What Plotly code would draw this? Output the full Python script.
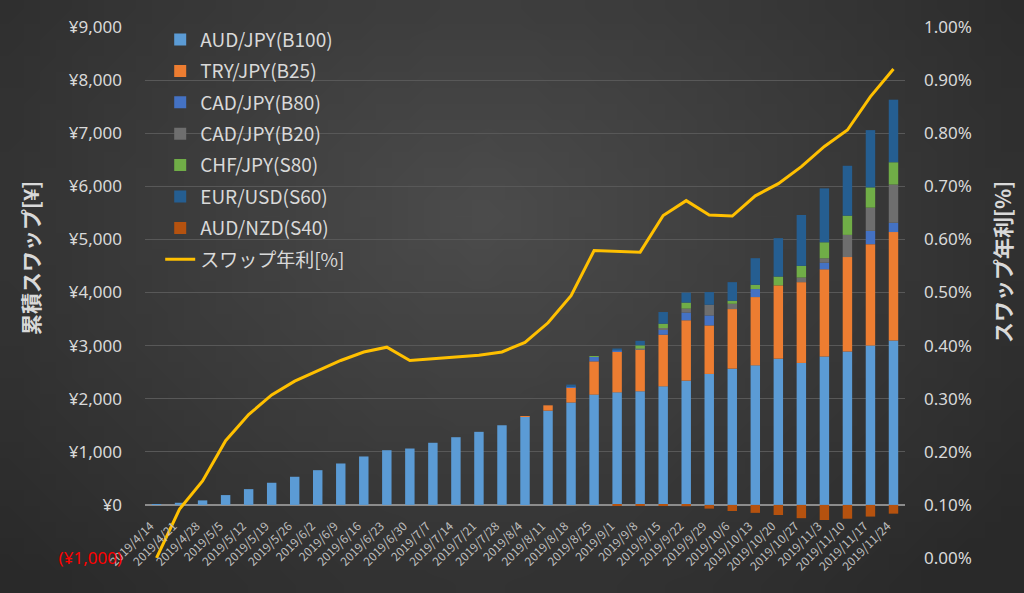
import base64
import struct
import zlib

import plotly.graph_objects as go

# ---------------- data ----------------
dates = ["2019/4/14", "2019/4/21", "2019/4/28", "2019/5/5", "2019/5/12", "2019/5/19",
         "2019/5/26", "2019/6/2", "2019/6/9", "2019/6/16", "2019/6/23", "2019/6/30",
         "2019/7/7", "2019/7/14", "2019/7/21", "2019/7/28", "2019/8/4", "2019/8/11",
         "2019/8/18", "2019/8/25", "2019/9/1", "2019/9/8", "2019/9/15", "2019/9/22",
         "2019/9/29", "2019/10/6", "2019/10/13", "2019/10/20", "2019/10/27", "2019/11/3",
         "2019/11/10", "2019/11/17", "2019/11/24"]

aud_jpy_b100 = [5, 40, 85, 185, 297, 417, 530, 654, 780, 912, 1030, 1062, 1170, 1275, 1376,
                1500, 1660, 1775, 1928, 2077, 2120, 2140, 2233, 2340, 2466, 2566, 2628, 2754,
                2673, 2797, 2891, 3004, 3098]
try_jpy_b25 = [0, 0, 0, 0, 0, 0, 0, 0, 0, 0, 0, 0, 0, 0, 0, 0,
               10, 100, 280, 626, 762, 785, 972, 1137, 914, 1122, 1286, 1380, 1522, 1639,
               1776, 1906, 2040]
cad_jpy_b80 = [0, 0, 0, 0, 0, 0, 0, 0, 0, 0, 0, 0, 0, 0, 0, 0, 0, 0,
               25, 85, 25, 10, 95, 145, 188, 0, 150, 0, 0, 125, 0, 250, 175]
cad_jpy_b20 = [0, 0, 0, 0, 0, 0, 0, 0, 0, 0, 0, 0, 0, 0, 0, 0, 0, 0, 0, 0, 0,
               10, 30, 75, 201, 100, 0, 0, 87, 83, 418, 438, 720]
chf_jpy_s80 = [0, 0, 0, 0, 0, 0, 0, 0, 0, 0, 0, 0, 0, 0, 0, 0, 0, 0, 0,
               15, 0, 60, 82, 113, 0, 56, 81, 166, 220, 302, 362, 382, 420]
eur_usd_s60 = [0, 0, 0, 0, 0, 0, 0, 0, 0, 0, 0, 0, 0, 0, 0, 0, 0, 0,
               33, 0, 38, 85, 220, 188, 239, 351, 501, 723, 958, 1015, 939, 1078, 1178]
aud_nzd_s40 = [0, 0, 0, 0, 0, 0, 0, 0, 0, 0, 0, 0, 0, 0, 0, 0, 0, 0, 0, 0,
               -5, -10, -20, -25, -70, -115, -150, -190, -250, -285, -260, -220, -165]
swap_rate = [0.0, 0.00092, 0.00145, 0.00221, 0.00270, 0.00307, 0.00333, 0.00353, 0.00372,
             0.00388, 0.00397, 0.00372, 0.00375, 0.00379, 0.00382, 0.00388, 0.00406, 0.00443,
             0.00494, 0.00579, 0.00578, 0.00576, 0.00645, 0.00673, 0.00646, 0.00644, 0.00682,
             0.00705, 0.00737, 0.00775, 0.00806, 0.00869, 0.00921]

series_names = ["AUD/JPY(B100)", "TRY/JPY(B25)", "CAD/JPY(B80)", "CAD/JPY(B20)",
                "CHF/JPY(S80)", "EUR/USD(S60)", "AUD/NZD(S40)"]
line_name = "スワップ年利[%]"

left_tick_vals = [-1000, 0, 1000, 2000, 3000, 4000, 5000, 6000, 7000, 8000, 9000]
left_tick_text = ['<span style="color:#ff0000">(¥1,000)</span>', "¥0", "¥1,000", "¥2,000",
                  "¥3,000", "¥4,000", "¥5,000", "¥6,000", "¥7,000", "¥8,000", "¥9,000"]

# ---------------- style ----------------
colors = ["#5B9BD5", "#ED7D31", "#4472C4", "#6E6E6E", "#70AD47", "#255E91", "#B5520F"]
LINE_COLOR = "#FFC000"
TEXT = "#D9D9D9"
FONT = "Noto Sans CJK JP"
TICK_FONT = "Noto Sans"


def gradient_png(w, h):
    rows = b""
    cx, cy = 0.47, 0.36
    for j in range(h):
        row = b"\x00"
        for i in range(w):
            dx = (i / (w - 1) - cx) * 1.0
            dy = (j / (h - 1) - cy) * 0.75
            d = min(1.0, (dx * dx + dy * dy) ** 0.5 / 0.66)
            v = int(round(0x4C - (0x4C - 0x29) * d))
            row += bytes((v, v, v))
        rows += row

    def chunk(tag, data):
        c = struct.pack(">I", len(data)) + tag + data
        return c + struct.pack(">I", zlib.crc32(tag + data) & 0xFFFFFFFF)

    png = b"\x89PNG\r\n\x1a\n"
    png += chunk(b"IHDR", struct.pack(">IIBBBBB", w, h, 8, 2, 0, 0, 0))
    png += chunk(b"IDAT", zlib.compress(rows, 9))
    png += chunk(b"IEND", b"")
    return "data:image/png;base64," + base64.b64encode(png).decode()


series_values = [aud_jpy_b100, try_jpy_b25, cad_jpy_b80, cad_jpy_b20,
                 chf_jpy_s80, eur_usd_s60, aud_nzd_s40]

fig = go.Figure()
for i, (name, vals, col) in enumerate(zip(series_names, series_values, colors)):
    fig.add_trace(go.Bar(
        x=dates, y=vals, name=name, legendgroup=f"g{i}",
        marker=dict(color=col, line=dict(width=0)),
    ))

fig.add_trace(go.Scatter(
    x=dates, y=swap_rate, name=line_name, yaxis="y2", mode="lines",
    legendgroup="g7",
    line=dict(color=LINE_COLOR, width=3),
))

W, H = 1024, 593
ML, MR, MT, MB = 145, 119, 27, 35
PW, PH = W - ML - MR, H - MT - MB

fig.update_layout(
    width=W, height=H,
    margin=dict(l=ML, r=MR, t=MT, b=MB),
    barmode="relative",
    bargap=0.59,
    paper_bgcolor="#383838",
    plot_bgcolor="rgba(0,0,0,0)",
    font=dict(family=FONT, color=TEXT),
    showlegend=True,
    legend=dict(
        x=0.02, y=1.012, xanchor="left", yanchor="top",
        bgcolor="rgba(0,0,0,0)",
        font=dict(size=19, color=TEXT, family=FONT),
        traceorder="grouped", tracegroupgap=3.7,
        itemwidth=30,
    ),
    xaxis=dict(
        type="category",
        anchor="free", position=0.1,
        showgrid=False, showline=False, zeroline=False,
        ticks="", tickangle=-45,
        ticklabelstandoff=11,
        ticklabelshift=-6,
        tickfont=dict(size=12, color="#BFBFBF", family=FONT),
    ),
    yaxis=dict(
        range=[-1000, 9000],
        tickvals=left_tick_vals, ticktext=left_tick_text,
        showgrid=True, gridcolor="#585858", gridwidth=1,
        zeroline=True, zerolinecolor="#8C8C8C", zerolinewidth=1.5,
        tickfont=dict(size=17, color=TEXT, family=TICK_FONT),
        ticklabelstandoff=22,
    ),
    yaxis2=dict(
        range=[0, 0.01], dtick=0.001, tickformat=".2%",
        overlaying="y", side="right",
        showgrid=False, zeroline=False,
        tickfont=dict(size=17, color=TEXT, family=TICK_FONT),
        ticklabelstandoff=18,
    ),
    images=[dict(
        source=gradient_png(64, 37),
        xref="paper", yref="paper",
        x=-ML / PW, y=1 + MT / PH,
        sizex=W / PW, sizey=H / PH,
        xanchor="left", yanchor="top",
        sizing="stretch", layer="below",
    )],
    annotations=[
        dict(text="累積スワップ[¥]", xref="paper", yref="paper",
             x=(30 - ML) / PW, y=(H - MB - 258) / PH, textangle=-90,
             showarrow=False, font=dict(size=21, color=TEXT, family=FONT, weight="bold"),
             xanchor="center", yanchor="middle"),
        dict(text="スワップ年利[%]", xref="paper", yref="paper",
             x=(1002 - ML) / PW, y=(H - MB - 262) / PH, textangle=-90,
             showarrow=False, font=dict(size=21, color=TEXT, family=FONT, weight="bold"),
             xanchor="center", yanchor="middle"),
    ],
)

fig.write_html("out.html",
               config={"displayModeBar": False},
               post_script="document.body.style.margin='0px';document.body.style.overflow='hidden';")
